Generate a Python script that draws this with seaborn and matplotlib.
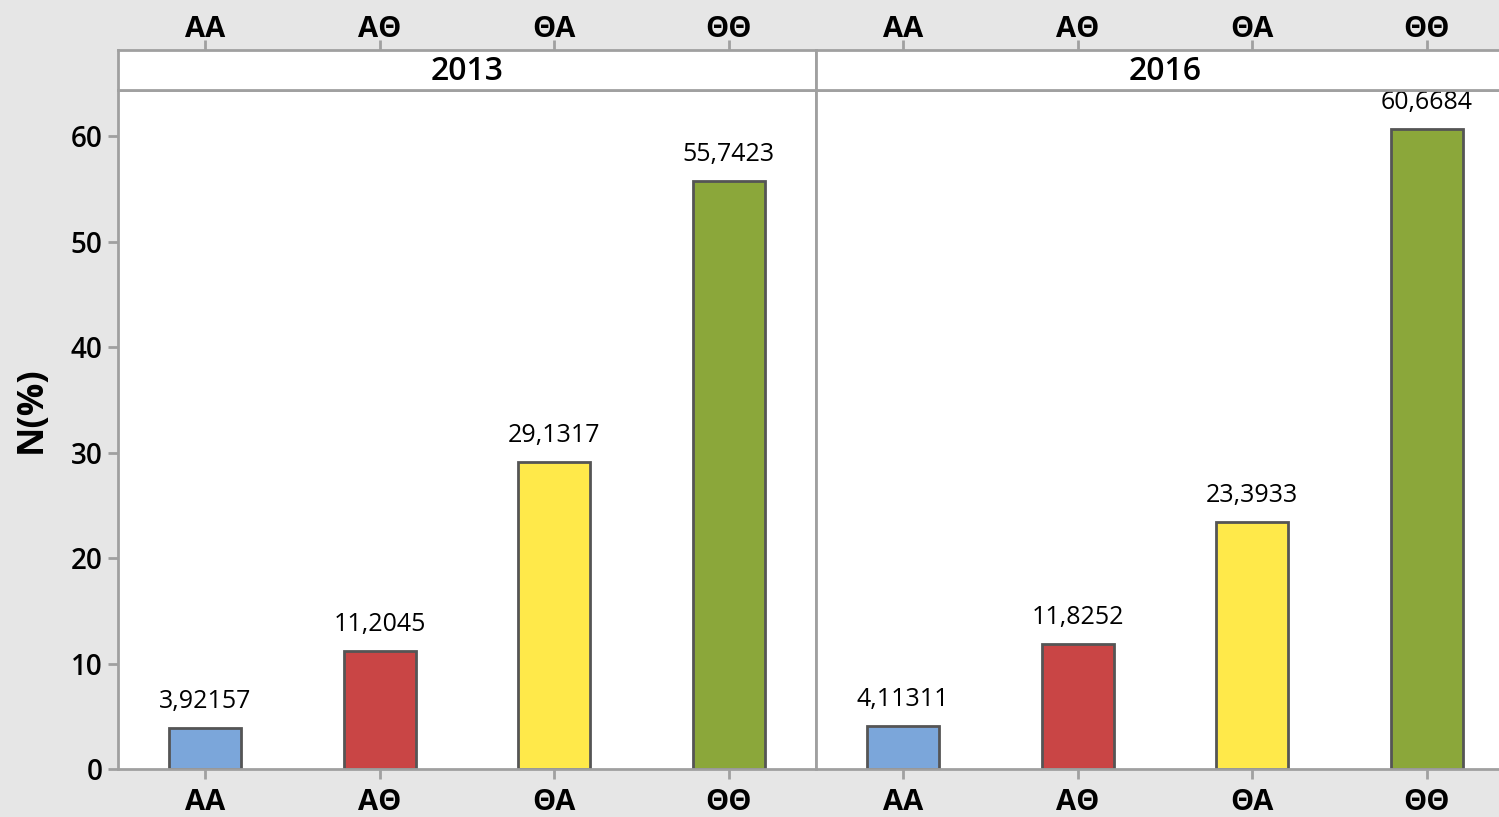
import pandas as pd
import seaborn as sns
import matplotlib.pyplot as plt

# data
genotypes = ["AA", "AΘ", "ΘA", "ΘΘ"]
years = ["2013", "2016"]
pct_2013 = [3.92157, 11.2045, 29.1317, 55.7423]
pct_2016 = [4.11311, 11.8252, 23.3933, 60.6684]
bar_colors = ["#7BA6DA", "#C94545", "#FFE94A", "#8BA73A"]

df = pd.DataFrame({
    "year": [y for y in years for _ in genotypes],
    "genotype": genotypes * 2,
    "pct": pct_2013 + pct_2016,
})

sns.set_theme(style="white")
plt.rcParams["font.family"] = ["Open Sans", "DejaVu Sans"]
plt.rcParams["text.color"] = "black"
plt.rcParams["xtick.labelcolor"] = "black"
plt.rcParams["ytick.labelcolor"] = "black"

W, H = 1499, 817
fig = plt.figure(figsize=(W / 100, H / 100), dpi=100, facecolor="#E6E6E6")

spine_col = "#A0A0A0"
panel_x = [118, 816]
panel_w = 698
plot_top, plot_bot, strip_top = 90, 769, 50


def fx(px):
    return px / W


def fy(py):
    return 1 - py / H


for i, year in enumerate(years):
    x0 = fx(panel_x[i])
    ax = fig.add_axes([x0, fy(plot_bot), fx(panel_w), (plot_bot - plot_top) / H])
    sub = df[df["year"] == year]
    sns.barplot(data=sub, x="genotype", y="pct", hue="genotype", order=genotypes,
                hue_order=genotypes, palette=bar_colors, width=0.41, legend=False,
                edgecolor="#555555", linewidth=2, saturation=1, ax=ax)
    for cont, v in zip(ax.containers, sub["pct"]):
        lab = f"{v:.6g}".replace(".", ",")
        ax.bar_label(cont, labels=[lab], padding=10, fontsize=18, color="black",
                     clip_on=False)
    ax.set_xlim(-0.5, 3.5)
    ax.set_ylim(0, 64.4)
    ax.set_facecolor("white")
    ax.set_xlabel("")
    ax.set_ylabel("")
    for s in ax.spines.values():
        s.set_color(spine_col)
        s.set_linewidth(2)
    ax.spines["right"].set_visible(i == 0)
    ax.tick_params(axis="x", length=7, width=2, color=spine_col, pad=7,
                   labelsize=21, bottom=True)
    for t in ax.get_xticklabels():
        t.set_fontweight("bold")
    if i == 0:
        ax.set_yticks(range(0, 61, 10))
        ax.tick_params(axis="y", length=7, width=2, color=spine_col, pad=4,
                       labelsize=20, left=True)
        for t in ax.get_yticklabels():
            t.set_fontweight("semibold")
    else:
        ax.set_yticks([])

    # strip with the year and the top tick labels
    st = fig.add_axes([x0, fy(plot_top), fx(panel_w), (plot_top - strip_top) / H])
    st.set_facecolor("white")
    st.set_xlim(-0.5, 3.5)
    st.set_ylim(0, 1)
    st.set_yticks([])
    st.set_xticks(range(len(genotypes)))
    st.set_xticklabels(genotypes, fontweight="bold", fontsize=21)
    st.tick_params(axis="x", top=True, bottom=False, labeltop=True,
                   labelbottom=False, length=7, width=2, color=spine_col, pad=-3)
    for s in st.spines.values():
        s.set_color(spine_col)
        s.set_linewidth(2)
    st.spines["right"].set_visible(i == 0)
    st.text(1.5, 0.45, year, ha="center", va="center", fontsize=23,
            fontweight="semibold")

fig.text(fx(32), fy(410), "N(%)", rotation=90, ha="center", va="center",
         fontsize=26, fontweight="bold")

fig.savefig("out.png", dpi=100, facecolor=fig.get_facecolor())
